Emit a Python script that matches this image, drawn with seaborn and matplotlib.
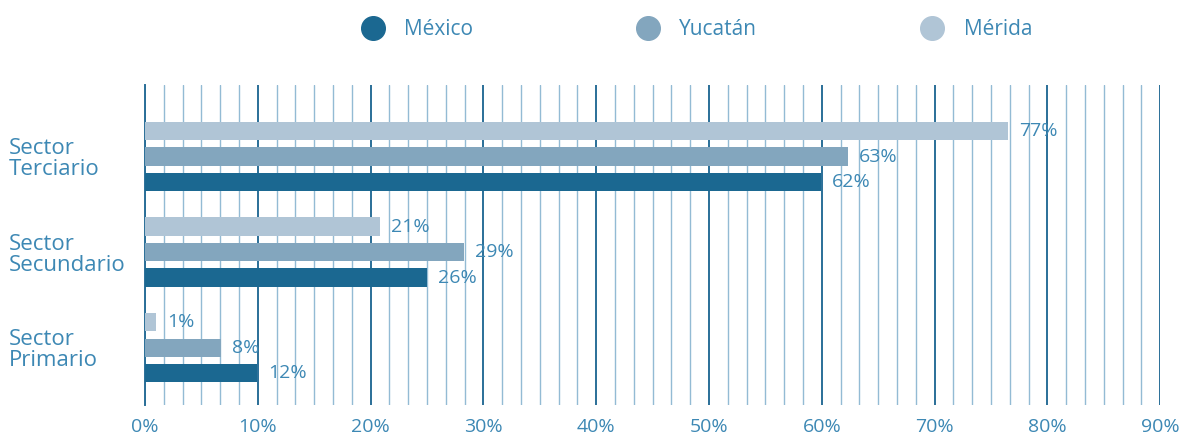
import pandas as pd
import matplotlib.pyplot as plt
import seaborn as sns
from matplotlib.lines import Line2D
from matplotlib.ticker import MultipleLocator, FuncFormatter

sectors = ["Sector\nTerciario", "Sector\nSecundario", "Sector\nPrimario"]
places = ["Mérida", "Yucatán", "México"]
merida = [76.5, 20.8, 1.0]
yucatan = [62.3, 28.3, 6.7]
mexico = [59.9, 25.0, 9.9]
merida_lbl = ["77%", "21%", "1%"]
yucatan_lbl = ["63%", "29%", "8%"]
mexico_lbl = ["62%", "26%", "12%"]

colors = {"México": "#1b6891", "Yucatán": "#83a6be", "Mérida": "#b0c5d6"}
txt = "#3d88b4"

df = pd.DataFrame({
    "sector": sectors * 3,
    "place": ["Mérida"] * 3 + ["Yucatán"] * 3 + ["México"] * 3,
    "value": merida + yucatan + mexico,
})

sns.set_style("white")
plt.rcParams["font.family"] = ["Open Sans", "DejaVu Sans"]

fig = plt.figure(figsize=(11.79, 4.4), dpi=100)
ax = fig.add_axes([0.123, 0.0795, 0.861, 0.7275])

sns.barplot(data=df, y="sector", x="value", hue="place", order=sectors,
            hue_order=places, palette=colors, orient="h", width=0.8,
            gap=0.28, saturation=1, linewidth=0, legend=False, ax=ax,
            zorder=3)

for cont, lbls in zip(ax.containers, [merida_lbl, yucatan_lbl, mexico_lbl]):
    ax.bar_label(cont, labels=lbls, padding=8, color=txt, fontsize=14)

ax.set_xlim(0, 90)
ax.set_ylim(2.6, -0.75)
ax.xaxis.set_major_locator(MultipleLocator(10))
ax.xaxis.set_minor_locator(MultipleLocator(10 / 6))
ax.xaxis.set_major_formatter(FuncFormatter(lambda v, p: f"{v:.0f}%"))
ax.grid(axis="x", which="major", color="#2a6f98", lw=1.4, zorder=0)
ax.grid(axis="x", which="minor", color="#93bbd4", lw=1.0, zorder=0)
ax.tick_params(axis="both", which="both", length=0)
ax.tick_params(axis="x", pad=9, labelsize=14, labelcolor=txt)
ax.tick_params(axis="y", pad=98, labelsize=16, labelcolor=txt)
for t in ax.get_yticklabels():
    t.set_ha("left")
    t.set_linespacing(1.0)
ax.set_xlabel("")
ax.set_ylabel("")
for s in ["top", "right", "bottom"]:
    ax.spines[s].set_visible(False)
ax.spines["left"].set_color("#2a6f98")
ax.spines["left"].set_linewidth(1.4)

handles = [Line2D([], [], marker="o", ls="", markersize=17,
                  markerfacecolor=colors[p], markeredgecolor=colors[p])
           for p in ["México", "Yucatán", "Mérida"]]
leg = fig.legend(handles, ["México", "Yucatán", "Mérida"], ncol=3,
                 loc="center", bbox_to_anchor=(0.587, 0.932), frameon=False,
                 fontsize=15, columnspacing=7.4, handletextpad=0.5)
for t in leg.get_texts():
    t.set_color(txt)

fig.savefig("out.png", dpi=100)
